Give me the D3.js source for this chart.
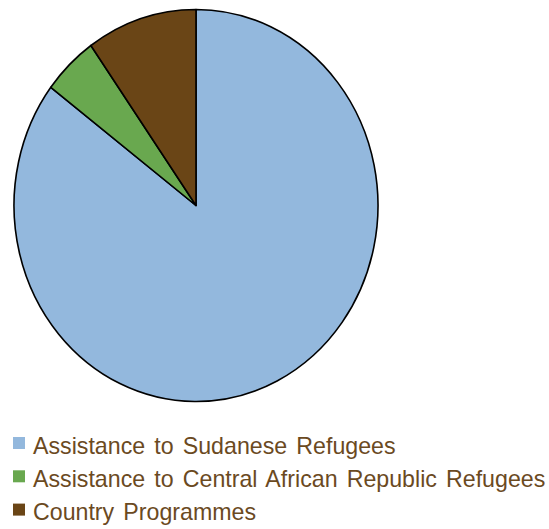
<!DOCTYPE html>
<html>
<head>
<meta charset="utf-8">
<script src="https://cdn.jsdelivr.net/npm/d3@7"></script>
<style>
  body { margin: 0; background: #fff; }
  .legend-text { font-family: "Liberation Sans", Arial, sans-serif; font-size: 23.2px; fill: #6b4a1f; word-spacing: 2.7px; }
</style>
</head>
<body>
<script>
var categories = ["Assistance to Sudanese Refugees", "Assistance to Central African Republic Refugees", "Country Programmes"];
var shares = [85.3, 4.9, 9.8];
var colors = ["#93b8dd", "#69a84f", "#6a4516"];

var width = 549, height = 529;
var svg = d3.select("body").append("svg")
  .attr("width", width)
  .attr("height", height);

var data = categories.map(function(c, i) { return {name: c, value: shares[i]}; });

// pie is slightly stretched vertically in the original
var rx = 182, ry = 196;
var g = svg.append("g")
  .attr("transform", "translate(196,205.5) scale(1," + (ry / rx) + ")");

var color = d3.scaleOrdinal().domain(categories).range(colors);
var pie = d3.pie().sort(null).value(function(d) { return d.value; });
var arc = d3.arc().innerRadius(0).outerRadius(rx);

g.selectAll("path")
  .data(pie(data))
  .enter()
  .append("path")
  .attr("d", arc)
  .attr("fill", function(d) { return color(d.data.name); })
  .attr("stroke", "#000")
  .attr("stroke-width", 1.6)
  .attr("vector-effect", "non-scaling-stroke")
  .attr("stroke-linejoin", "round");

var legend = svg.append("g").attr("transform", "translate(13,437)");
var row = legend.selectAll("g")
  .data(categories)
  .enter()
  .append("g")
  .attr("transform", function(d, i) { return "translate(0," + (i * 33.3) + ")"; });

row.append("rect")
  .attr("width", 12)
  .attr("height", 12)
  .attr("fill", function(d) { return color(d); });

row.append("text")
  .attr("class", "legend-text")
  .attr("x", 20)
  .attr("y", 16.5)
  .text(function(d) { return d; });
</script>
</body>
</html>
